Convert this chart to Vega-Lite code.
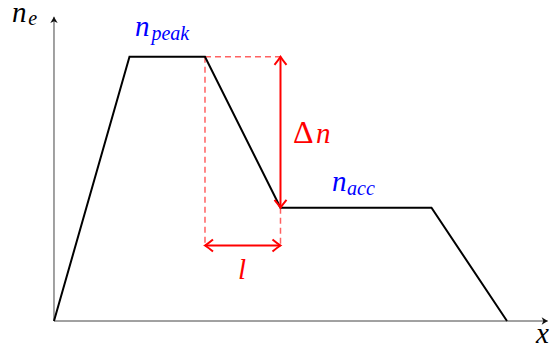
{
  "$schema": "https://vega.github.io/schema/vega-lite/v6.json",
  "width": 552,
  "height": 346,
  "padding": 0,
  "autosize": {"type": "none"},
  "background": "white",
  "config": {"view": {"stroke": null}},
  "datasets": {
    "axes": [
      {"x": 0, "y": 0, "x2": 6.54, "y2": 0},
      {"x": 0, "y": 0, "x2": 0, "y2": 4.03}
    ],
    "axisHeads": [
      {"x": 6.54, "y": 0, "dir": 90},
      {"x": 0, "y": 4.03, "dir": 0}
    ],
    "profile": [
      {"x": 0, "y": 0, "k": 0},
      {"x": 1, "y": 3.5, "k": 1},
      {"x": 2, "y": 3.5, "k": 2},
      {"x": 3, "y": 1.5, "k": 3},
      {"x": 5, "y": 1.5, "k": 4},
      {"x": 6, "y": 0, "k": 5}
    ],
    "guides": [
      {"x": 2, "y": 3.5, "x2": 3, "y2": 3.5},
      {"x": 2, "y": 3.5, "x2": 2, "y2": 1.0},
      {"x": 3, "y": 1.5, "x2": 3, "y2": 1.0}
    ],
    "spans": [
      {"x": 3, "y": 3.5, "x2": 3, "y2": 1.5},
      {"x": 2, "y": 1.0, "x2": 3, "y2": 1.0}
    ],
    "spanHeads": [
      {"x": 3, "y": 3.5, "dir": 0},
      {"x": 3, "y": 1.5, "dir": 180},
      {"x": 2, "y": 1.0, "dir": 270},
      {"x": 3, "y": 1.0, "dir": 90}
    ],
    "uprightLabels": [
      {"x": 3.166, "y": 2.358, "t": "Δ", "c": "span"}
    ],
    "mainLabels": [
      {"x": -0.556, "y": 3.96, "t": "n", "c": "axis"},
      {"x": 6.384, "y": -0.291, "t": "x", "c": "axis"},
      {"x": 1.073, "y": 3.775, "t": "n", "c": "level"},
      {"x": 3.682, "y": 1.722, "t": "n", "c": "level"},
      {"x": 3.47, "y": 2.358, "t": "n", "c": "span"},
      {"x": 2.437, "y": 0.556, "t": "l", "c": "span"}
    ],
    "subLabels": [
      {"x": -0.34, "y": 3.92, "t": "e", "c": "axis"},
      {"x": 1.29, "y": 3.722, "t": "peak", "c": "level"},
      {"x": 3.881, "y": 1.669, "t": "acc", "c": "level"}
    ]
  },
  "layer": [
    {
      "data": {"name": "axes"},
      "mark": {"type": "rule", "stroke": "#444444", "strokeWidth": 1},
      "encoding": {
        "x": {"field": "x", "type": "quantitative", "axis": null, "scale": {"domain": [-0.715, 6.596], "nice": false, "zero": false}},
        "y": {"field": "y", "type": "quantitative", "axis": null, "scale": {"domain": [-0.331, 4.252], "nice": false, "zero": false}},
        "x2": {"field": "x2"},
        "y2": {"field": "y2"}
      }
    },
    {
      "data": {"name": "axisHeads"},
      "mark": {"type": "point", "shape": "M0,0 L-0.6,1 L0,0.72 L0.6,1 Z", "filled": true, "fill": "#111111", "size": 150, "opacity": 1},
      "encoding": {
        "x": {"field": "x", "type": "quantitative"},
        "y": {"field": "y", "type": "quantitative"},
        "angle": {"field": "dir", "type": "quantitative", "scale": null}
      }
    },
    {
      "data": {"name": "guides"},
      "mark": {"type": "rule", "stroke": "#ff0000", "strokeOpacity": 0.62, "strokeWidth": 1.5, "strokeDash": [6, 4]},
      "encoding": {
        "x": {"field": "x", "type": "quantitative"},
        "y": {"field": "y", "type": "quantitative"},
        "x2": {"field": "x2"},
        "y2": {"field": "y2"}
      }
    },
    {
      "data": {"name": "profile"},
      "mark": {"type": "line", "stroke": "black", "strokeWidth": 2, "strokeJoin": "miter"},
      "encoding": {
        "x": {"field": "x", "type": "quantitative"},
        "y": {"field": "y", "type": "quantitative"},
        "order": {"field": "k", "type": "quantitative"}
      }
    },
    {
      "data": {"name": "spans"},
      "mark": {"type": "rule", "stroke": "#ff0000", "strokeWidth": 2},
      "encoding": {
        "x": {"field": "x", "type": "quantitative"},
        "y": {"field": "y", "type": "quantitative"},
        "x2": {"field": "x2"},
        "y2": {"field": "y2"}
      }
    },
    {
      "data": {"name": "spanHeads"},
      "mark": {"type": "point", "shape": "M-0.75,1 Q-0.25,0.4 0,0 Q0.25,0.4 0.75,1", "filled": false, "stroke": "#ff0000", "strokeWidth": 2, "size": 256, "opacity": 1},
      "encoding": {
        "x": {"field": "x", "type": "quantitative"},
        "y": {"field": "y", "type": "quantitative"},
        "angle": {"field": "dir", "type": "quantitative", "scale": null}
      }
    },
    {
      "data": {"name": "uprightLabels"},
      "mark": {"type": "text", "font": "Liberation Serif", "fontSize": 32, "align": "left", "baseline": "alphabetic"},
      "encoding": {
        "x": {"field": "x", "type": "quantitative"},
        "y": {"field": "y", "type": "quantitative"},
        "text": {"field": "t"},
        "color": {"field": "c", "type": "nominal", "legend": null, "scale": {"domain": ["axis", "level", "span"], "range": ["#000000", "#0000ff", "#ff0000"]}}
      }
    },
    {
      "data": {"name": "mainLabels"},
      "mark": {"type": "text", "font": "Liberation Serif", "fontStyle": "italic", "fontSize": 29, "align": "left", "baseline": "alphabetic"},
      "encoding": {
        "x": {"field": "x", "type": "quantitative"},
        "y": {"field": "y", "type": "quantitative"},
        "text": {"field": "t"},
        "color": {"field": "c", "type": "nominal", "legend": null}
      }
    },
    {
      "data": {"name": "subLabels"},
      "mark": {"type": "text", "font": "Liberation Serif", "fontStyle": "italic", "fontSize": 20, "align": "left", "baseline": "alphabetic"},
      "encoding": {
        "x": {"field": "x", "type": "quantitative"},
        "y": {"field": "y", "type": "quantitative"},
        "text": {"field": "t"},
        "color": {"field": "c", "type": "nominal", "legend": null}
      }
    }
  ]
}
